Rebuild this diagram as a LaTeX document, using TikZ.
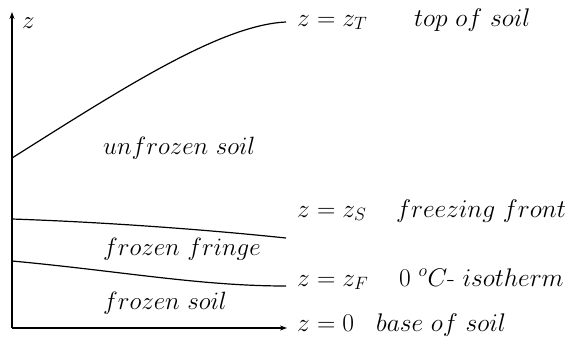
\RequirePackage{fix-cm}
\documentclass[tikz,border=0pt]{standalone}
\usetikzlibrary{arrows.meta}
\tikzset{
  lbl/.style={anchor=base west, inner sep=0pt, font=\fontsize{25}{30}\selectfont},
  rlbl/.style={anchor=base west, inner sep=0pt, font=\fontsize{25.5}{30}\selectfont},
  curve/.style={line width=1.2pt},
  axis/.style={line width=1.2pt, -{Stealth[length=7pt,width=5pt]}}
}
\begin{document}
\begin{tikzpicture}[x=1pt,y=-1pt]
\useasboundingbox (0,0) rectangle (572,338);
% axes
\coordinate (O) at (12,328);
\coordinate (Ytop) at (12,12);
\coordinate (Xend) at (287,328);
\draw[axis] (O) -- (Ytop);
\draw[axis] (O) -- (Xend);
% boundary curves
\coordinate (T0) at (12,158);
\coordinate (T1) at (286,22);
\coordinate (S0) at (12,219);
\coordinate (S1) at (286,238);
\coordinate (F0) at (12,261);
\coordinate (F1) at (286,286);
\draw[curve] (T0) .. controls (120,90) and (220,25) .. (T1);
\draw[curve] (S0) .. controls (100,222) and (200,229) .. (S1);
\draw[curve] (F0) .. controls (120,271) and (200,286) .. (F1);
% labels
\node[lbl] (zl) at (22,28) {$z$};
\node[lbl] (ul) at (103,154) {$unfrozen\ soil$};
\node[lbl] (ff) at (103,255) {$frozen\ fringe$};
\node[lbl] (fs) at (103,309) {$frozen\ soil$};
\node[rlbl] (rT) at (297,26) {$z=z_T$};
\node[rlbl] (tT) at (414,26) {$top\ of\ soil$};
\node[rlbl] (rS) at (297,217) {$z=z_S$};
\node[rlbl] (tS) at (396,217) {$freezing\ front$};
\node[rlbl] (rF) at (297,286) {$z=z_F$};
\node[rlbl] (tF) at (399,286) {$0\ {}^oC$\mbox{-}\ $isotherm$};
\node[rlbl] (r0) at (297,331) {$z=0$};
\node[rlbl] (t0) at (376,331) {$base\ of\ soil$};
\end{tikzpicture}
\end{document}
